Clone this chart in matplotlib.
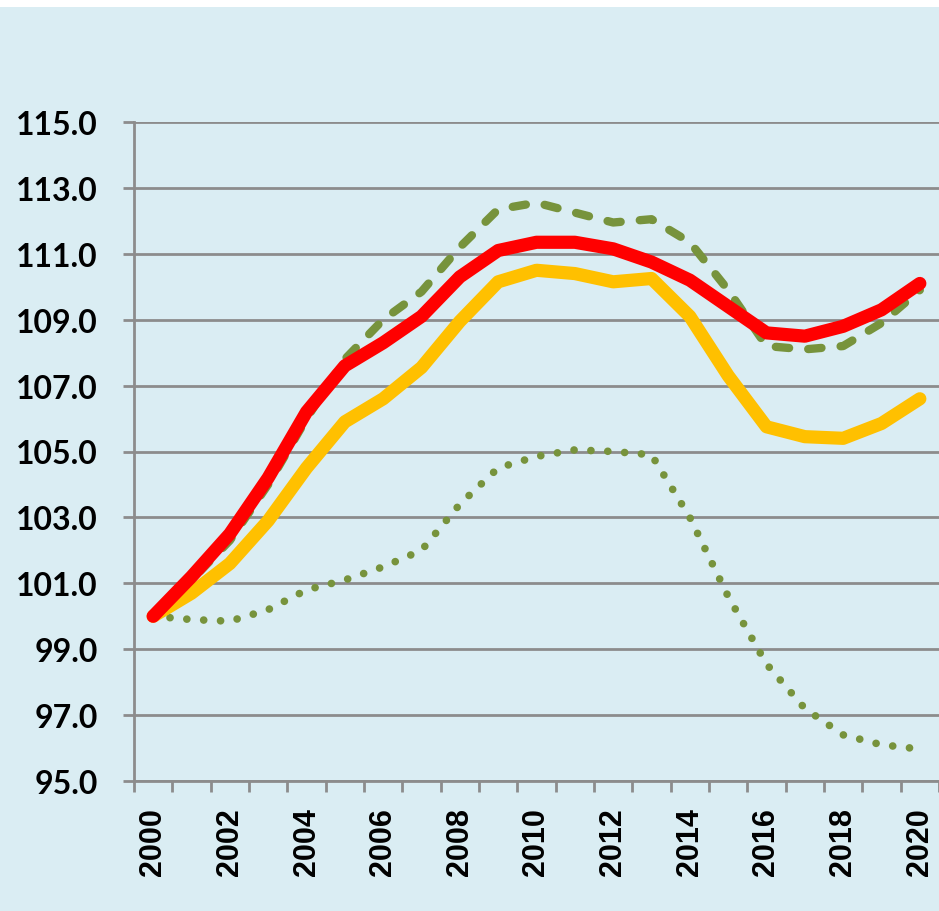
import matplotlib.pyplot as plt
import matplotlib.patches as mpatches
import numpy as np

years = list(range(2000, 2021))

rojo = [100.0, 101.2, 102.5, 104.2, 106.2, 107.6, 108.3, 109.1, 110.3, 111.1,
        111.35, 111.35, 111.15, 110.75, 110.2, 109.4, 108.6, 108.5, 108.8, 109.3, 110.1]
amarillo = [100.0, 100.7, 101.6, 102.9, 104.5, 105.9, 106.6, 107.55, 108.95, 110.15,
            110.5, 110.4, 110.15, 110.25, 109.1, 107.3, 105.75, 105.45, 105.4, 105.85, 106.6]
verde_guion = [100.0, 101.1, 102.3, 104.0, 106.0, 107.8, 109.0, 109.85, 111.2, 112.35,
               112.55, 112.25, 111.95, 112.05, 111.35, 109.9, 108.2, 108.1, 108.2, 108.9, 109.9]
verde_punto = [100.0, 99.9, 99.85, 100.2, 100.8, 101.1, 101.5, 102.0, 103.4, 104.5,
               104.85, 105.05, 105.0, 104.9, 103.0, 100.6, 98.55, 97.2, 96.4, 96.1, 95.97]

fondo = "#DAEDF3"
gris = "#8C8C8C"

plt.rcParams['font.family'] = ['Lato', 'DejaVu Sans']

fig = plt.figure(figsize=(9.39, 9.12), dpi=100)
fig.patch.set_facecolor(fondo)
# franja blanca superior
fig.patches.append(mpatches.Rectangle((0, 1 - 8 / 912), 1, 8 / 912, transform=fig.transFigure,
                                      facecolor="white", edgecolor="none", zorder=0))

ax = fig.add_axes([134 / 939, 130 / 912, 805 / 939, 659 / 912])
ax.set_facecolor(fondo)

x = np.arange(len(years))

ax.plot(x, verde_punto, color="#77933C", lw=5.5, dashes=(0.01, 2.2),
        dash_capstyle="round", solid_capstyle="round", zorder=3)
ax.plot(x, verde_guion, color="#77933C", lw=6, dashes=(1.6, 2.3),
        dash_capstyle="round", zorder=4)
ax.plot(x, amarillo, color="#FFC000", lw=9.5, solid_capstyle="round",
        solid_joinstyle="round", zorder=5)
ax.plot(x, rojo, color="#FF0000", lw=9.5, solid_capstyle="round",
        solid_joinstyle="round", zorder=6)

ax.set_xlim(-0.5, 20.5)
ax.set_ylim(95, 115)

ax.set_yticks(np.arange(95, 115.1, 2))
ax.set_yticklabels([f"{v:.1f}" for v in np.arange(95, 115.1, 2)],
                   fontsize=23, fontweight="bold")
ax.yaxis.grid(True, color=gris, lw=2)
ax.set_axisbelow(True)

ax.set_xticks(x[::2])
ax.set_xticklabels([str(y) for y in years[::2]], rotation=90,
                   fontsize=22, fontweight="bold", family="Liberation Sans")
ax.set_xticks(np.arange(-0.5, 20.6, 1), minor=True)
ax.tick_params(axis="x", which="major", length=0, pad=19)
ax.tick_params(axis="x", which="minor", length=8, width=2, color=gris)
ax.tick_params(axis="y", length=8, width=2, color=gris, pad=18)

for s in ["top", "right"]:
    ax.spines[s].set_visible(False)
for s in ["left", "bottom"]:
    ax.spines[s].set_color(gris)
    ax.spines[s].set_linewidth(2)

plt.savefig("out.png", dpi=100, facecolor=fig.get_facecolor())
